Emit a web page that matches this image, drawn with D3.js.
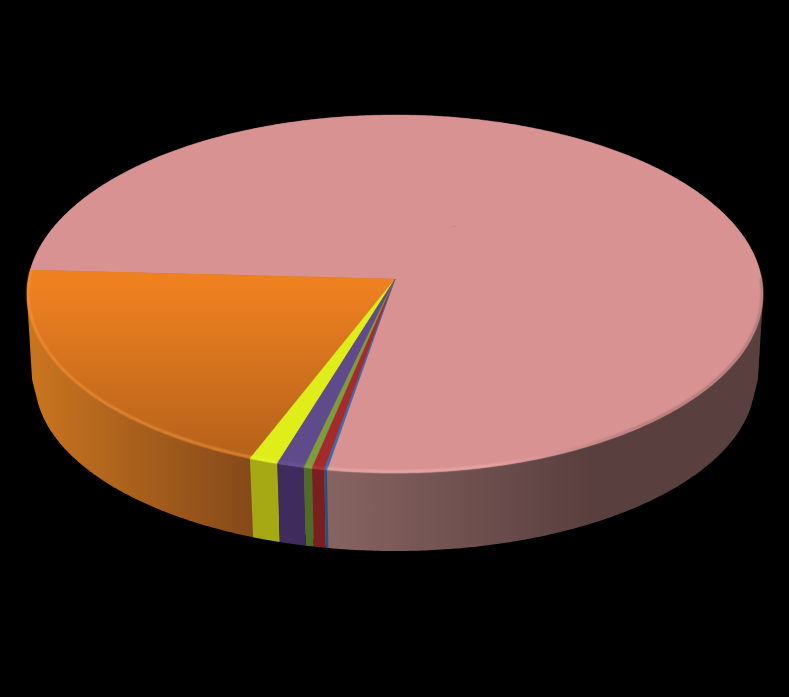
<!DOCTYPE html>
<html>
<head>
<meta charset="utf-8">
<style>
	body { margin: 0; background: #000; }
	svg { display: block; }
</style>
<script src="https://cdnjs.cloudflare.com/ajax/libs/d3/7.8.5/d3.min.js"></script>
</head>
<body>
<div id="plot"></div>
<script>
	// slice values in percent, clockwise from the thin blue slice
	const categories = ["a", "b", "c", "d", "e", "f", "g"];
	const values = [0.11, 0.5, 0.33, 1.11, 1.17, 19.86, 76.92];

	const topColors = ["#3a6bb0", "#a52a2c", "#7d9c3c", "#5f4a8b", "#dfee1a", "#ee8020", "#d89291"];
	const topColorsDark = ["#3a6bb0", "#a52a2c", "#7d9c3c", "#5f4a8b", "#dfee1a", "#b5621b", "#d89291"];
	const sideColorsLeft = ["#2a4f80", "#7a1f20", "#4f6b25", "#3f2c5c", "#a6a914", "#c8741f", "#876462"];
	const sideColorsRight = ["#2a4f80", "#7a1f20", "#4f6b25", "#3f2c5c", "#a6a914", "#85491a", "#5a3f3f"];
	const bevelColors = ["#4a7cc0", "#bd3a3c", "#90b04c", "#7059a0", "#eef838", "#f8993f", "#f0b4b2"];

	const w = 789;
	const h = 697;

	// ellipses of the top face and the (slightly smaller) bottom face
	const topFace = {cx: 395, cy: 294, rx: 368, ry: 179};
	const bottomFace = {cx: 395, cy: 381, rx: 360, ry: 170};
	// flat helper ellipse, keeps the wall straight down to its lower corners
	const shoulderFace = {cx: 395, cy: 378, rx: 363, ry: 60};
	// perspective: the pie centre shows up above the ellipse centre
	const persp = -0.0838;
	const startAngle = 189.8 * Math.PI / 180;

	function project(face, angle, r) {
		const px = Math.sin(angle) * r;
		const py = -Math.cos(angle) * r;
		const d = 1 + persp * py;
		return [
			face.cx + face.rx * px * Math.sqrt(1 - persp * persp) / d,
			face.cy + face.ry * (py + persp) / d
		];
	}

	function arcPoints(face, a0, a1) {
		const n = Math.max(2, Math.ceil(Math.abs(a1 - a0) / 0.01));
		return d3.range(n + 1).map(i => project(face, a0 + (a1 - a0) * i / n, 1));
	}

	const pie = d3.pie()
		.sort(null)
		.value(d => d)
		.startAngle(startAngle)
		.endAngle(startAngle + 2 * Math.PI);
	const slices = pie(values);

	// biggest slices go first so the small ones sit on top of them
	const drawOrder = slices.slice().reverse();

	const line = d3.line();

	const svg = d3.select("div#plot")
		.append("svg")
		.attr("width", w)
		.attr("height", h);

	svg.append("rect")
		.attr("width", w)
		.attr("height", h)
		.attr("fill", "#000");

	const defs = svg.append("defs");

	defs.append("filter")
		.attr("id", "soft")
		.attr("filterUnits", "userSpaceOnUse")
		.attr("x", 0).attr("y", 0).attr("width", w).attr("height", h)
		.append("feGaussianBlur")
		.attr("stdDeviation", 1.1);

	// gradients, one side and one top for each slice

	slices.forEach(function(s, i) {
		let x0 = d3.min(arcPoints(bottomFace, s.startAngle, s.endAngle), p => p[0]);
		let x1 = d3.max(arcPoints(bottomFace, s.startAngle, s.endAngle), p => p[0]);
		if (i == 6) {
			x0 = 327;
			x1 = 590;
		}
		const side = defs.append("linearGradient")
			.attr("id", "side" + i)
			.attr("gradientUnits", "userSpaceOnUse")
			.attr("x1", x0).attr("x2", x1).attr("y1", 0).attr("y2", 0);
		side.append("stop").attr("offset", 0).attr("stop-color", sideColorsLeft[i]);
		side.append("stop").attr("offset", 1).attr("stop-color", sideColorsRight[i]);

		const face = defs.append("linearGradient")
			.attr("id", "top" + i)
			.attr("gradientUnits", "userSpaceOnUse")
			.attr("x1", 0).attr("x2", 0).attr("y1", 285).attr("y2", 458);
		face.append("stop").attr("offset", 0).attr("stop-color", topColors[i]);
		face.append("stop").attr("offset", 1).attr("stop-color", topColorsDark[i]);
	});

	// pink rim fades from a light bevel into the dark wall on the right
	const pinkRim = defs.append("linearGradient")
		.attr("id", "pinkRim")
		.attr("gradientUnits", "userSpaceOnUse")
		.attr("x1", 340).attr("x2", 640).attr("y1", 0).attr("y2", 0);
	pinkRim.append("stop").attr("offset", 0).attr("stop-color", bevelColors[6]);
	pinkRim.append("stop").attr("offset", 0.5).attr("stop-color", bevelColors[6]);
	pinkRim.append("stop").attr("offset", 1).attr("stop-color", "#9a6a69");

	// side walls, hull of the rims so the outline stays closed at the far left and right

	svg.append("g")
		.attr("id", "sides")
		.selectAll("path")
		.data(drawOrder)
		.enter().append("path")
		.attr("d", function(d) {
			const upper = arcPoints(topFace, d.startAngle, d.endAngle);
			const lower = arcPoints(bottomFace, d.startAngle, d.endAngle);
			let pts = upper.concat(lower);
			if (d.index >= 5) {
				pts = pts.concat(arcPoints(shoulderFace, d.startAngle, d.endAngle));
			}
			return line(d3.polygonHull(pts)) + "Z";
		})
		.attr("fill", d => "url(#side" + d.index + ")");

	// top face

	svg.append("g")
		.attr("id", "tops")
		.selectAll("path")
		.data(drawOrder)
		.enter().append("path")
		.attr("d", function(d) {
			const rim = arcPoints(topFace, d.startAngle, d.endAngle);
			return line([project(topFace, 0, 0)].concat(rim)) + "Z";
		})
		.attr("fill", d => "url(#top" + d.index + ")")
		.attr("stroke", d => "url(#top" + d.index + ")")
		.attr("stroke-width", 0.4);

	// soft lighter bevel along the front rim only

	const frontEnd = 2 * Math.PI + Math.PI / 2;

	svg.append("g")
		.attr("id", "bevel")
		.selectAll("path")
		.data(slices)
		.enter().append("path")
		.attr("d", function(d) {
			// the pink slice wraps around the back, keep only its front part
			const a0 = d.index == 6 ? frontEnd : d.startAngle;
			return line(arcPoints({cx: 395, cy: 293.3, rx: 367, ry: 178.2}, a0, d.endAngle));
		})
		.attr("fill", "none")
		.attr("stroke", d => d.index == 6 ? "url(#pinkRim)" : bevelColors[d.index])
		.attr("stroke-width", 1.5)
		.attr("filter", "url(#soft)");

	// leftover leader mark on the pink slice
	svg.append("path")
		.attr("d", "M451,226.5H456")
		.attr("stroke", "#c98583")
		.attr("stroke-width", 0.7);
</script>
</body>
</html>
